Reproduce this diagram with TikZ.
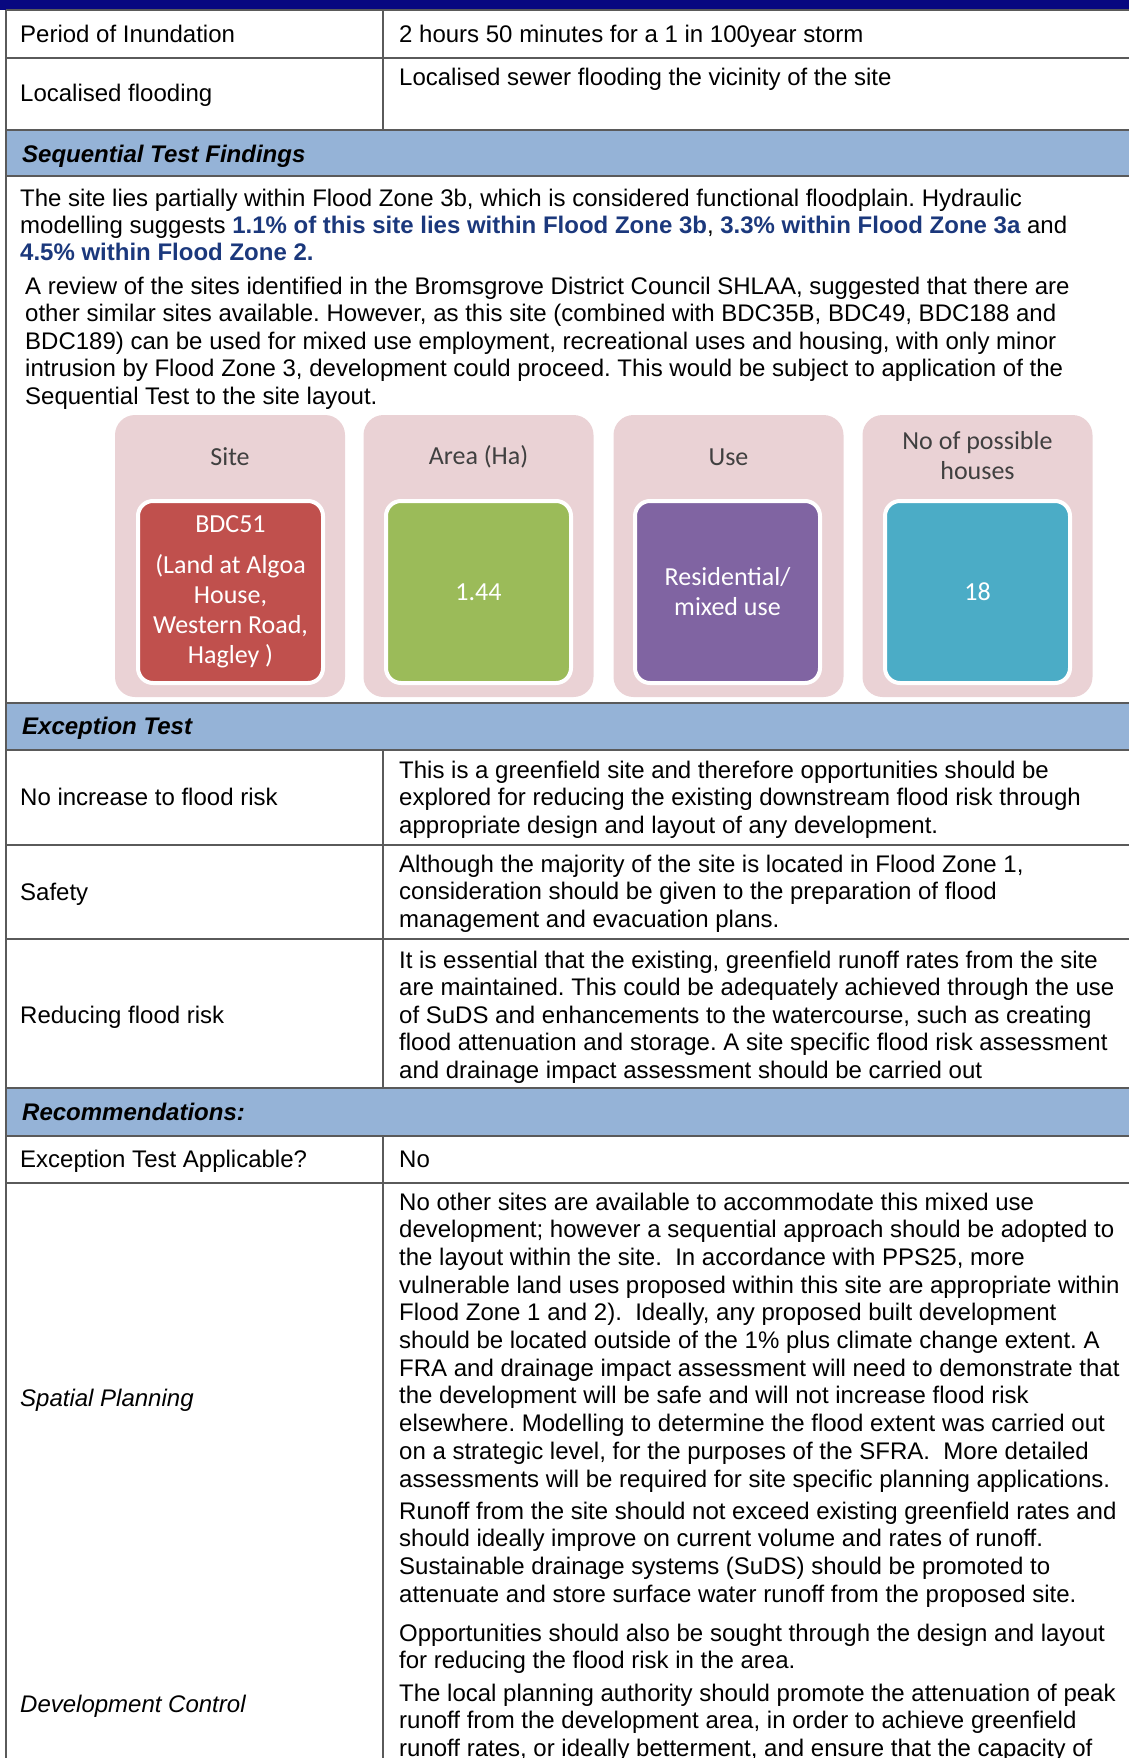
\documentclass[tikz,border=0pt]{standalone}
\usepackage{fontspec}
\setmainfont{Liberation Sans}
\newfontfamily\calibri{Carlito}
\usetikzlibrary{positioning}
\frenchspacing
\definecolor{navybar}{RGB}{8,8,128}
\definecolor{headblue}{RGB}{149,179,215}
\definecolor{rulegray}{RGB}{90,90,90}
\definecolor{fzblue}{RGB}{27,56,124}
\definecolor{pinkbg}{RGB}{234,210,213}
\definecolor{sitered}{RGB}{192,80,77}
\definecolor{areagreen}{RGB}{155,187,89}
\definecolor{usepurple}{RGB}{128,100,162}
\definecolor{housecyan}{RGB}{75,172,198}
\definecolor{titlegray}{RGB}{64,64,64}
\tikzset{
  txt/.style={anchor=base west, inner sep=0pt, font=\fontsize{24}{27.5}\selectfont},
  headtxt/.style={txt, font=\fontsize{24}{27.5}\selectfont\bfseries\itshape},
  ittxt/.style={txt, font=\fontsize{24}{27.5}\selectfont\itshape},
  cell/.style={draw=rulegray, line width=1.5pt},
  outerbox/.style={fill=pinkbg, rounded corners=20pt, minimum width=230pt, minimum height=282pt},
  innerbox/.style={draw=white, line width=4pt, rounded corners=15pt, minimum width=185pt,
    minimum height=182pt, inner sep=2pt, text=white, align=center,
    font=\calibri\fontsize{26}{30}\selectfont},
  boxtitle/.style={font=\calibri\fontsize{26}{30}\selectfont, text=titlegray, align=center}
}
\newcommand{\fz}[1]{{\bfseries\color{fzblue}#1}}
\begin{document}
\begin{tikzpicture}[x=1pt,y=-1pt]
\useasboundingbox (0,0) rectangle (1129,1758);
\clip (0,0) rectangle (1129,1758);

\fill[navybar] (0,0) rectangle (1140,10);
\draw[cell] (6,10) -- (6,1760);
\foreach \yy in {10,58,845,939,1183}
  \draw[cell] (6,\yy) -- (1140,\yy);
\draw[cell] (383,10) -- (383,130);
\draw[cell] (383,750) -- (383,1088);
\draw[cell] (383,1136) -- (383,1760);
\foreach \ya/\yb in {130/176,703/750,1088/1136}
  \filldraw[fill=headblue, cell, line width=2pt] (6,\ya) rectangle (1140,\yb);

% top rows
\node[txt] (inund) at (20,43) {Period of Inundation};
\node[txt] (inundv) at (399,43) {2 hours 50 minutes for a 1 in 100year storm};
\node[txt] (local) at (20,102) {Localised flooding};
\node[txt] (localv) at (399,86) {Localised sewer flooding the vicinity of the site};

% sequential test
\node[headtxt] (seqhead) at (22,162) {Sequential Test Findings};
\foreach \lin [count=\k from 0] in {
  {The site lies partially within Flood Zone 3b, which is considered functional floodplain. Hydraulic},
  {modelling suggests \fz{1.1\% of this site lies within Flood Zone 3b}, \fz{3.3\% within Flood Zone 3a} and},
  {\fz{4.5\% within Flood Zone 2.}}}
  \node[txt] (seqa\k) at (20,{206+27*\k}) {\lin};
\foreach \lin [count=\k from 0] in {
  {A review of the sites identified in the Bromsgrove District Council SHLAA, suggested that there are},
  {other similar sites available. However, as this site (combined with BDC35B, BDC49, BDC188 and},
  {BDC189) can be used for mixed use employment, recreational uses and housing, with only minor},
  {intrusion by Flood Zone 3, development could proceed. This would be subject to application of the},
  {Sequential Test to the site layout.}}
  \node[txt] (seqb\k) at (25,{294+27.5*\k}) {\lin};

% site summary
\node[outerbox] (sitebg) at (230,556) {};
\node[outerbox] (areabg) at (478.5,556) {};
\node[outerbox] (usebg) at (728.5,556) {};
\node[outerbox] (housebg) at (977.5,556) {};
\node[boxtitle] (sitettl) at (230,457) {Site};
\node[boxtitle] (areattl) at (478.5,457) {Area (Ha)};
\node[boxtitle] (usettl) at (728.5,457) {Use};
\node[boxtitle] (housettl) at (977.5,456) {No of possible\\houses};
\node[innerbox, fill=sitered] (site) at (230.5,592) {BDC51\\[11pt](Land at Algoa\\House,\\Western Road,\\Hagley )};
\node[innerbox, fill=areagreen] (area) at (478.5,592) {1.44};
\node[innerbox, fill=usepurple] (use) at (727.5,592) {Residential/\\mixed use};
\node[innerbox, fill=housecyan] (house) at (977.5,592) {18};

% exception test
\node[headtxt] (exchead) at (22,734) {Exception Test};
\node[txt] (noinc) at (20,805) {No increase to flood risk};
\foreach \lin [count=\k from 0] in {
  {This is a greenfield site and therefore opportunities should be},
  {explored for reducing the existing downstream flood risk through},
  {appropriate design and layout of any development.}}
  \node[txt] (noincv\k) at (399,{778+27.5*\k}) {\lin};
\node[txt] (safety) at (20,900) {Safety};
\foreach \lin [count=\k from 0] in {
  {Although the majority of the site is located in Flood Zone 1,},
  {consideration should be given to the preparation of flood},
  {management and evacuation plans.}}
  \node[txt] (safetyv\k) at (399,{872+27.5*\k}) {\lin};
\node[txt] (reduce) at (20,1023) {Reducing flood risk};
\foreach \lin [count=\k from 0] in {
  {It is essential that the existing, greenfield runoff rates from the site},
  {are maintained. This could be adequately achieved through the use},
  {of SuDS and enhancements to the watercourse, such as creating},
  {flood attenuation and storage. A site specific flood risk assessment},
  {and drainage impact assessment should be carried out}}
  \node[txt] (reducev\k) at (399,{968+27.5*\k}) {\lin};

% recommendations
\node[headtxt] (rechead) at (22,1120) {Recommendations:};
\node[txt] (applic) at (20,1167) {Exception Test Applicable?};
\node[txt] (applicv) at (399,1167) {No};
\node[ittxt] (spatial) at (20,1406) {Spatial Planning};
\foreach \lin [count=\k from 0] in {
  {No other sites are available to accommodate this mixed use},
  {development; however a sequential approach should be adopted to},
  {the layout within the site.\ \ In accordance with PPS25, more},
  {vulnerable land uses proposed within this site are appropriate within},
  {Flood Zone 1 and 2).\ \ Ideally, any proposed built development},
  {should be located outside of the 1\% plus climate change extent. A},
  {FRA and drainage impact assessment will need to demonstrate that},
  {the development will be safe and will not increase flood risk},
  {elsewhere. Modelling to determine the flood extent was carried out},
  {on a strategic level, for the purposes of the SFRA.\ \ More detailed},
  {assessments will be required for site specific planning applications.}}
  \node[txt] (spatialv\k) at (399,{1210+27.7*\k}) {\lin};
\node[ittxt] (devctl) at (20,1712) {Development Control};
\foreach \lin [count=\k from 0] in {
  {Runoff from the site should not exceed existing greenfield rates and},
  {should ideally improve on current volume and rates of runoff.},
  {Sustainable drainage systems (SuDS) should be promoted to},
  {attenuate and store surface water runoff from the proposed site.}}
  \node[txt] (runoff\k) at (399,{1519+27.7*\k}) {\lin};
\foreach \lin [count=\k from 0] in {
  {Opportunities should also be sought through the design and layout},
  {for reducing the flood risk in the area.}}
  \node[txt] (oppo\k) at (399,{1641+27.5*\k}) {\lin};
\foreach \lin [count=\k from 0] in {
  {The local planning authority should promote the attenuation of peak},
  {runoff from the development area, in order to achieve greenfield},
  {runoff rates, or ideally betterment, and ensure that the capacity of}}
  \node[txt] (lpa\k) at (399,{1701+27.5*\k}) {\lin};
\end{tikzpicture}
\end{document}
